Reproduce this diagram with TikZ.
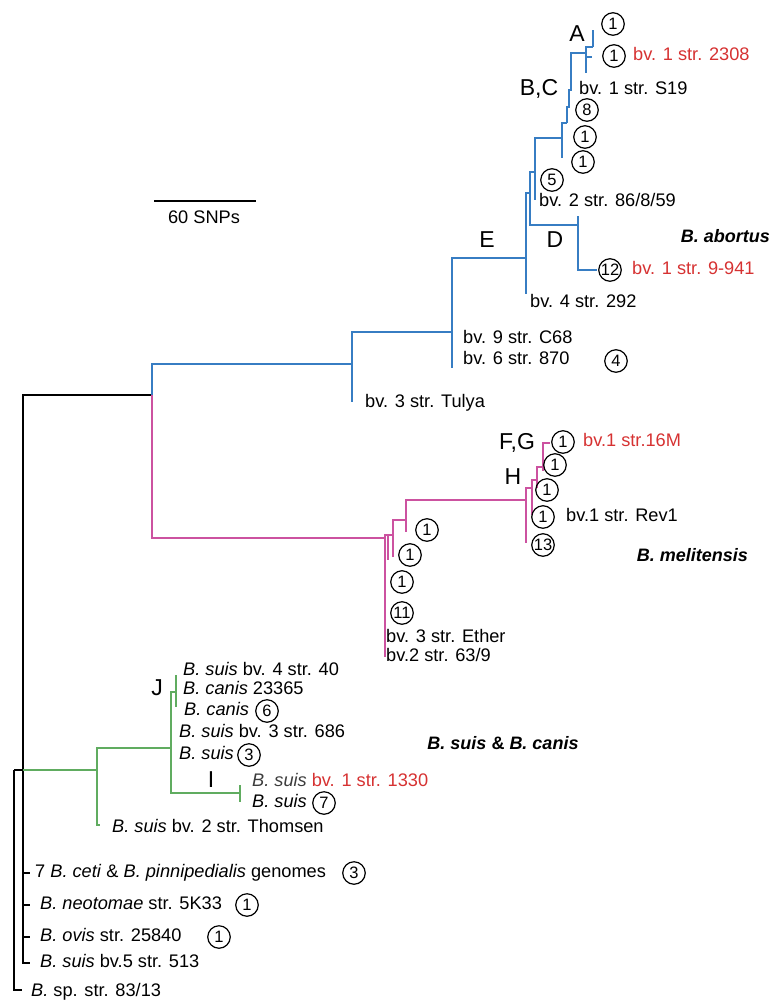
\documentclass[tikz,border=0pt]{standalone}
\usepackage{fontspec}
\setmainfont{Liberation Sans}
\definecolor{cblue}{RGB}{55,125,195}
\definecolor{cpink}{RGB}{204,82,160}
\definecolor{cgreen}{RGB}{96,172,96}
\definecolor{cred}{RGB}{214,50,50}
\definecolor{cgray}{RGB}{60,60,60}
\begin{document}
\begin{tikzpicture}[x=1pt,y=-1pt,
  br/.style={line width=2.1pt},
  blk/.style={line width=2.4pt,black},
  lab/.style={anchor=west,inner sep=0pt,text height=13pt,text depth=3.8pt,font=\fontsize{18.2}{21}\selectfont},
  big/.style={inner sep=0pt,font=\fontsize{23}{26}\selectfont},
  circ/.style={circle,draw,line width=1.2pt,minimum size=22.5pt,inner sep=0pt,font=\fontsize{16.5}{17}\selectfont},
  grp/.style={inner sep=0pt,font=\fontsize{18}{20}\selectfont\bfseries\itshape}]
\useasboundingbox (0,0) rectangle (772,1001);

% ---------- coordinates ----------
\coordinate (R) at (14,770);
\coordinate (N23) at (23,770);
\coordinate (Lsp) at (22,990);
\coordinate (L1) at (30,873);
\coordinate (L2) at (30,905);
\coordinate (L3) at (30,937);
\coordinate (L4) at (30,963);
\coordinate (AM) at (152,395);
% blue
\coordinate (B0) at (352,364);
\coordinate (BTul) at (352,402);
\coordinate (B1) at (452,332);
\coordinate (B870) at (452,368);
\coordinate (BE) at (526,258);
\coordinate (B292) at (526,294);
\coordinate (B2) at (530,193);
\coordinate (BD) at (578,225);
\coordinate (BDt) at (578,216);
\coordinate (B941) at (597,270);
\coordinate (B3) at (535,172);
\coordinate (B86) at (535,200);
\coordinate (B4) at (562,138);
\coordinate (B4l) at (562,158);
\coordinate (B5) at (567,123);
\coordinate (B6) at (586,53);
\coordinate (B6l) at (586,73);
\coordinate (BA) at (593,47);
\coordinate (BAt) at (593,30);
\coordinate (B2308) at (592,57);
% pink
\coordinate (M0) at (385,538);
\coordinate (M0l) at (385,657);
\coordinate (M1) at (388,535);
\coordinate (M1l) at (388,560);
\coordinate (M2) at (393,535);
\coordinate (M2l) at (393,557);
\coordinate (M3) at (406,520);
\coordinate (M3l) at (406,532);
\coordinate (M4) at (526,500);
\coordinate (M4l) at (526,543);
\coordinate (M5) at (532,488);
\coordinate (M5l) at (532,515);
\coordinate (M6) at (537,480);
\coordinate (M6l) at (537,488);
\coordinate (M7) at (543,467);
\coordinate (M7l) at (543,471);
\coordinate (M16) at (550,443);
% green
\coordinate (G0) at (97,770);
\coordinate (GTh) at (100,825);
\coordinate (G1) at (171,748);
\coordinate (GJ) at (176,692);
\coordinate (GJt) at (176,675);
\coordinate (GJb) at (176,707);
\coordinate (GI) at (240,793);
\coordinate (GIt) at (240,785);
\coordinate (GIb) at (240,802);

% ---------- black ----------
\draw[blk] (R) |- (Lsp);
\draw[blk] (R) -- (N23);
\draw[blk] (N23) |- (AM);
\draw[blk] (N23) |- (L4);
\draw[blk] (N23 |- L1) -- (L1);
\draw[blk] (N23 |- L2) -- (L2);
\draw[blk] (N23 |- L3) -- (L3);

% ---------- blue ----------
\begin{scope}[br,cblue]
\draw (AM) |- (B0);
\draw (B0) -- (BTul);
\draw (B0) |- (B1);
\draw (B1) -- (B870);
\draw (B1) |- (BE);
\draw (BE) -- (B292);
\draw (BE) |- (B2);
\draw (B2) |- (BD);
\draw (BD) -- (BDt);
\draw (BD) |- (B941);
\draw (B2) |- (B3);
\draw (B3) -- (B86);
\draw (B3) |- (B4);
\draw (B4) -- (B4l);
\draw (B4) |- (B5);
\draw (B5) -- (567,107) -- (569,107) -- (569,90) -- (571,90) -- (571,53) -- (B6);
\draw (B6) -- (B6l);
\draw (B6) |- (BA);
\draw (BA) -- (BAt);
\draw (B6 |- B2308) -- (B2308);
\end{scope}

% ---------- pink ----------
\begin{scope}[br,cpink]
\draw (AM) |- (M0);
\draw (M0) -- (M0l);
\draw (M0) |- (M1);
\draw (M1) -- (M1l);
\draw (M1) -- (M2);
\draw (M2) -- (M2l);
\draw (M2) |- (M3);
\draw (M3) -- (M3l);
\draw (M3) |- (M4);
\draw (M4) -- (M4l);
\draw (M4) |- (M5);
\draw (M5) -- (M5l);
\draw (M5) |- (M6);
\draw (M6) -- (M6l);
\draw (M6) |- (M7);
\draw (M7) -- (M7l);
\draw (M7) |- (M16);
\end{scope}

% ---------- green ----------
\begin{scope}[br,cgreen]
\draw (N23) -- (G0);
\draw (G0) |- (GTh);
\draw (G0) |- (G1);
\draw (G1) |- (GJ);
\draw (G1) |- (GI);
\draw (GJt) -- (GJb);
\draw (GIt) -- (GIb);
\end{scope}

% ---------- scale bar ----------
\coordinate (sb1) at (154,201);
\coordinate (sb2) at (256,201);
\draw[line width=2.4pt] (sb1) -- (sb2);
\node[lab,anchor=center] (sbl) at (204,219) {60 SNPs};

% ---------- blue labels ----------
\node[circ] (cA1) at (613,24) {1};
\node[circ] (cA2) at (614,56) {1};
\node[lab,text=cred] (t2308) at (633,56) {bv. 1 str. 2308};
\node[big] (lA) at (577,34) {A};
\node[big] (lBC) at (539,89) {B,C};
\node[lab] (tS19) at (579,90) {bv. 1 str. S19};
\node[circ] (c8) at (587,110) {8};
\node[circ] (c1a) at (585,137) {1};
\node[circ] (c1b) at (583,162) {1};
\node[circ] (c5) at (552,180) {5};
\node[lab] (t86) at (539,202) {bv. 2 str. 86/8/59};
\node[big] (lE) at (487,240) {E};
\node[big] (lD) at (555,240) {D};
\node[circ] (c12) at (610,270) {12};
\node[lab,text=cred] (t941) at (632,270) {bv. 1 str. 9-941};
\node[lab] (t292) at (530,303) {bv. 4 str. 292};
\node[lab] (tC68) at (463,339) {bv. 9 str. C68};
\node[lab] (t870) at (463,360) {bv. 6 str. 870};
\node[circ] (c4) at (616,361) {4};
\node[lab] (tTul) at (365,403) {bv. 3 str. Tulya};
\node[grp,anchor=east] (gAb) at (770,236) {B. abortus};

% ---------- pink labels ----------
\node[big] (lFG) at (517,443) {F,G};
\node[circ] (c16) at (563,442) {1};
\node[lab,text=cred] (t16M) at (583,442) {bv.1 str.16M};
\node[circ] (cm2) at (555,465) {1};
\node[big] (lH) at (513,477) {H};
\node[circ] (cm3) at (547,490) {1};
\node[circ] (cm4) at (543,517) {1};
\node[lab] (tRev) at (566,517) {bv.1 str. Rev1};
\node[circ] (cm13) at (543,545) {13};
\node[circ] (cm5) at (427,530) {1};
\node[circ] (cm6) at (410,555) {1};
\node[circ] (cm7) at (402,582) {1};
\node[circ] (cm11) at (402,613) {11};
\node[lab] (tEth) at (386,638) {bv. 3 str. Ether};
\node[lab] (t639) at (386,657) {bv.2 str. 63/9};
\node[grp,anchor=east] (gMel) at (748,555) {B. melitensis};

% ---------- green labels ----------
\node[lab] (ts40) at (183,671) {\textit{B. suis} bv. 4 str. 40};
\node[lab] (tc23) at (183,690) {\textit{B. canis} 23365};
\node[lab] (tc6) at (184,711) {\textit{B. canis}};
\node[circ] (c6) at (267,711) {6};
\node[big] (lJ) at (157,688) {J};
\node[lab] (ts686) at (179,733) {\textit{B. suis} bv. 3 str. 686};
\node[lab] (ts3) at (179,755) {\textit{B. suis}};
\node[circ] (c3a) at (249,755) {3};
\node[big] (lI) at (211,780) {I};
\node[lab] (ts1330) at (252,782) {\textcolor{cgray}{\textit{B. suis}} \textcolor{cred}{bv. 1 str. 1330}};
\node[lab] (ts7) at (252,803) {\textit{B. suis}};
\node[circ] (c7) at (324,803) {7};
\node[lab] (tTh) at (112,828) {\textit{B. suis} bv. 2 str. Thomsen};
\node[grp] (gSuis) at (503,743) {B. suis \textup{\&} B. canis};

% ---------- bottom labels ----------
\node[lab] (tceti) at (35,873) {7 \textit{B. ceti} \& \textit{B. pinnipedialis} genomes};
\node[circ] (c3b) at (354,873) {3};
\node[lab] (tneo) at (40,905) {\textit{B. neotomae} str. 5K33};
\node[circ] (cneo) at (247,905) {1};
\node[lab] (tovis) at (40,937) {\textit{B. ovis} str. 25840};
\node[circ] (covis) at (219,937) {1};
\node[lab] (ts513) at (40,963) {\textit{B. suis} bv.5 str. 513};
\node[lab] (tsp) at (31,992) {\textit{B.} sp. str. 83/13};
\end{tikzpicture}
\end{document}
